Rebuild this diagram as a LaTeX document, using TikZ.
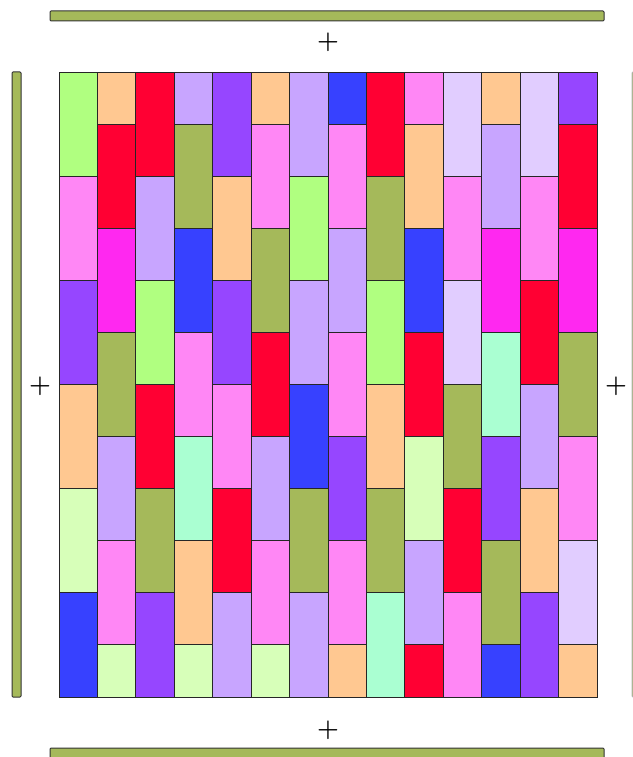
\documentclass[tikz,border=0pt]{standalone}
\usepackage{xcolor}
\usepackage{tikz}

\definecolor{tlime}{RGB}{176,255,128}
\definecolor{tpeach}{RGB}{255,200,145}
\definecolor{tred}{RGB}{255,0,51}
\definecolor{tlav}{RGB}{200,165,255}
\definecolor{tpurp}{RGB}{150,70,255}
\definecolor{tblue}{RGB}{55,65,255}
\definecolor{tpink}{RGB}{255,135,245}
\definecolor{tolive}{RGB}{165,185,90}
\definecolor{tpale}{RGB}{225,205,255}
\definecolor{tmag}{RGB}{255,40,240}
\definecolor{taqua}{RGB}{170,255,210}
\definecolor{tmint}{RGB}{215,255,185}

\begin{document}
\begin{tikzpicture}[x=1pt,y=-1pt,
  tile/.style={draw=black!85, line width=0.9pt},
  bar/.style={draw=black!80, fill=tolive, line width=1pt, rounded corners=1pt},
  sign/.style={inner sep=0pt, font=\fontsize{25}{25}\selectfont\bfseries}]
\useasboundingbox (0,0) rectangle (632,757);
% brick columns, odd ones start with a full tile
\foreach \c/\list in {
  1/{tlime,tpink,tpurp,tpeach,tmint,tblue},
  2/{tpeach,tred,tmag,tolive,tlav,tpink,tmint},
  3/{tred,tlav,tlime,tred,tolive,tpurp},
  4/{tlav,tolive,tblue,tpink,taqua,tpeach,tmint},
  5/{tpurp,tpeach,tpurp,tpink,tred,tlav},
  6/{tpeach,tpink,tolive,tred,tlav,tpink,tmint},
  7/{tlav,tlime,tlav,tblue,tolive,tlav},
  8/{tblue,tpink,tlav,tpink,tpurp,tpink,tpeach},
  9/{tred,tolive,tlime,tpeach,tolive,taqua},
  10/{tpink,tpeach,tblue,tred,tmint,tlav,tred},
  11/{tpale,tpink,tpale,tolive,tred,tpink},
  12/{tpeach,tlav,tmag,taqua,tpurp,tolive,tblue},
  13/{tpale,tpink,tred,tlav,tpeach,tpurp},
  14/{tpurp,tred,tmag,tolive,tpink,tpale,tpeach}} {
  \foreach \f [count=\r] in \list {
    \pgfmathsetmacro\xa{59+38.43*(\c-1)}
    \pgfmathsetmacro\xb{\xa+38.43}
    \ifodd\c
      \pgfmathsetmacro\ya{72+104.17*(\r-1)}
      \pgfmathsetmacro\yb{\ya+104.17}
    \else
      \pgfmathsetmacro\ya{72+52.08*max(0,2*\r-3)}
      \pgfmathsetmacro\yb{72+52.08*min(12,2*\r-1)}
    \fi
    \draw[tile, fill=\f] (\xa,\ya) rectangle (\xb,\yb);
  }
}
% side bars
\draw[bar] (50,11) rectangle (604,21);
\draw[bar] (50,748) rectangle (604,764);
\draw[bar] (12,72) rectangle (21,697);
\draw[bar, draw=black!30] (632,72) rectangle (642,697);
\node[sign] (plusT) at (328,42) {+};
\node[sign] (plusB) at (328,730) {+};
\node[sign] (plusL) at (40,386) {+};
\node[sign] (plusR) at (616,386) {+};
\end{tikzpicture}
\end{document}
